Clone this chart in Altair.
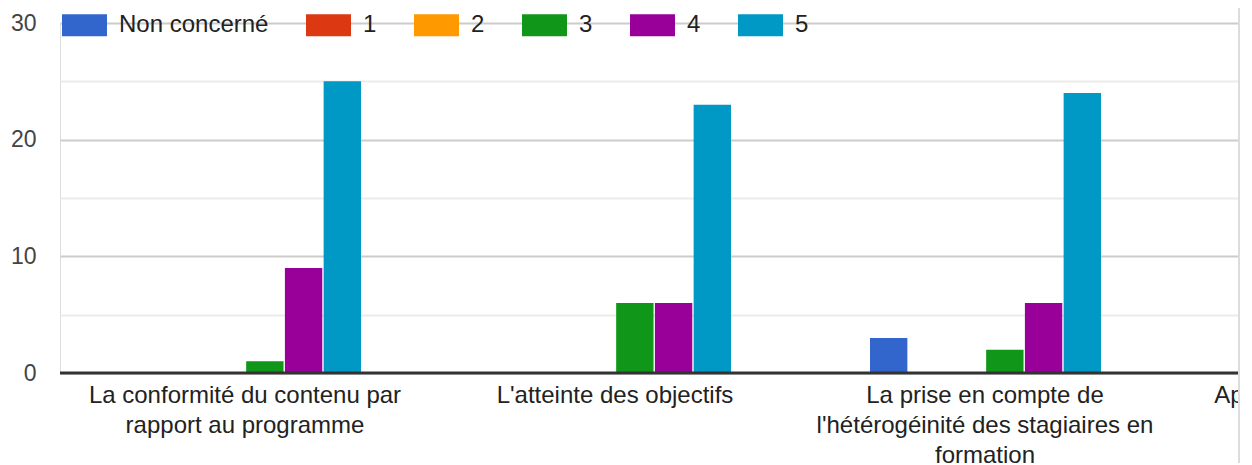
import altair as alt
import pandas as pd

categories = [
    "La conformité du contenu par\nrapport au programme",
    "L'atteinte des objectifs",
    "La prise en compte de\nl'hétérogéinité des stagiaires en\nformation",
    "Apports de la formation en\npratique",
]
series = ["Non concerné", "1", "2", "3", "4", "5"]
colors = ["#3366cc", "#dc3912", "#ff9900", "#109618", "#990099", "#0099c6"]

values_non_concerne = [0, 0, 3]
values_1 = [0, 0, 0]
values_2 = [0, 0, 0]
values_3 = [1, 6, 2]
values_4 = [9, 6, 6]
values_5 = [25, 23, 24]

all_values = [values_non_concerne, values_1, values_2, values_3, values_4, values_5]
rows = []
for s, vals in zip(series, all_values):
    for c, v in zip(categories[:3], vals):
        rows.append({"cat": c, "serie": s, "val": v})
df = pd.DataFrame(rows)

FONT = "Liberation Sans"

x_scale = alt.Scale(domain=categories, range=[0, 1480], paddingInner=0, paddingOuter=0)

bars = alt.Chart(df).mark_bar().encode(
    x=alt.X("cat:N", scale=x_scale, sort=categories,
            axis=alt.Axis(title=None, domain=False, ticks=False, labelAngle=0,
                          labelFont=FONT, labelFontSize=24, labelColor="#222222",
                          labelPadding=10, labelLineHeight=30, labelLimit=500,
                          labelExpr="split(datum.label, '\\n')")),
    xOffset=alt.XOffset("serie:N", sort=series,
                        scale=alt.Scale(range=[70, 301], paddingInner=0.035, paddingOuter=0)),
    y=alt.Y("val:Q", scale=alt.Scale(domain=[0, 30], nice=False),
            axis=alt.Axis(title=None, domain=False, ticks=False,
                          values=[0, 5, 10, 15, 20, 25, 30],
                          labelExpr="datum.value % 10 === 0 ? datum.label : ''",
                          labelFont=FONT, labelFontSize=23, labelColor="#444444",
                          labelPadding=24, gridWidth=2,
                          gridColor={"condition": {"test": "datum.value % 10 === 0", "value": "#cccccc"},
                                     "value": "#ebebeb"})),
    color=alt.Color("serie:N", sort=series,
                    scale=alt.Scale(domain=series, range=colors),
                    legend=alt.Legend(title=None, orient="none", direction="horizontal",
                                      legendX=2, legendY=-20.5, padding=0,
                                      symbolType="M-1,-0.489L1,-0.489L1,0.489L-1,0.489Z",
                                      symbolSize=2025, symbolStrokeWidth=0, symbolOpacity=1,
                                      labelFont=FONT, labelFontSize=24, labelColor="#222222",
                                      labelOffset=12, columnPadding=37)),
)

baseline = alt.Chart(pd.DataFrame({"y": [0]})).mark_rule(color="#333333", strokeWidth=3).encode(
    y=alt.Y("y:Q", scale=alt.Scale(domain=[0, 30], nice=False))
)

edge = alt.Chart(pd.DataFrame({"y": [0]})).mark_rule(color="#dadce0", strokeWidth=2).encode(
    x=alt.value(1179), y=alt.value(-20), y2=alt.value(450)
)

chart = alt.layer(bars, baseline, edge).properties(
    width=1180, height=350,
    autosize=alt.AutoSizeParams(type="none"),
    padding={"left": 52, "top": 15, "right": 0, "bottom": 90},
).configure_view(stroke=None).configure(background="white")

chart.save("out.html", embed_options={"renderer": "svg", "actions": False})
